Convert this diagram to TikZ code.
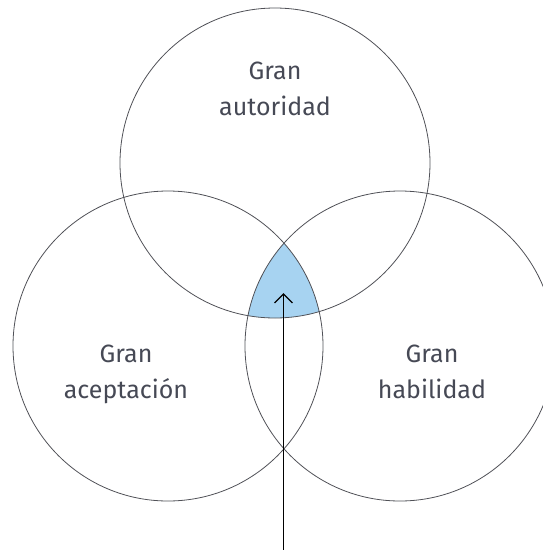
\documentclass[tikz,border=0pt]{standalone}
\usepackage{fontspec}
\setmainfont{Fira Sans}
\usetikzlibrary{arrows.meta}
\definecolor{textgray}{HTML}{464955}
\definecolor{ringgray}{HTML}{505157}
\definecolor{coreblue}{HTML}{A7D3F1}
\tikzset{ring/.style={draw=ringgray, circle, minimum size=310pt, inner sep=0pt, line width=0.8pt},
         venntext/.style={align=center, anchor=base, text=textgray, font=\fontsize{25}{36}\selectfont},
         pointer/.style={-{Straight Barb[length=9pt, width=18pt]}, line width=1.3pt}}
\begin{document}
\begin{tikzpicture}[x=1pt, y=-1pt]
    \useasboundingbox (0,0) rectangle (542,550);
    \coordinate (ctop) at (275,163);
    \coordinate (cleft) at (168,346);
    \coordinate (cright) at (400,346);

    % region shared by all three
    \begin{scope}
        \clip (ctop) circle (155pt);
        \clip (cleft) circle (155pt);
        \fill[coreblue] (cright) circle (155pt);
    \end{scope}

    \node[ring] (autoridad) at (ctop) {};
    \node[ring] (aceptacion) at (cleft) {};
    \node[ring] (habilidad) at (cright) {};

    % base anchor sits on the last line
    \node[venntext] (tautoridad) at (275,115) {Gran\\autoridad};
    \node[venntext] (taceptacion) at (126,398) {Gran\\aceptación};
    \node[venntext] (thabilidad) at (432,398) {Gran\\habilidad};

    \coordinate (foot) at (283.5,550);
    \coordinate (core) at (283.5,293);
    \draw[pointer] (foot) -- (core);
\end{tikzpicture}
\end{document}
